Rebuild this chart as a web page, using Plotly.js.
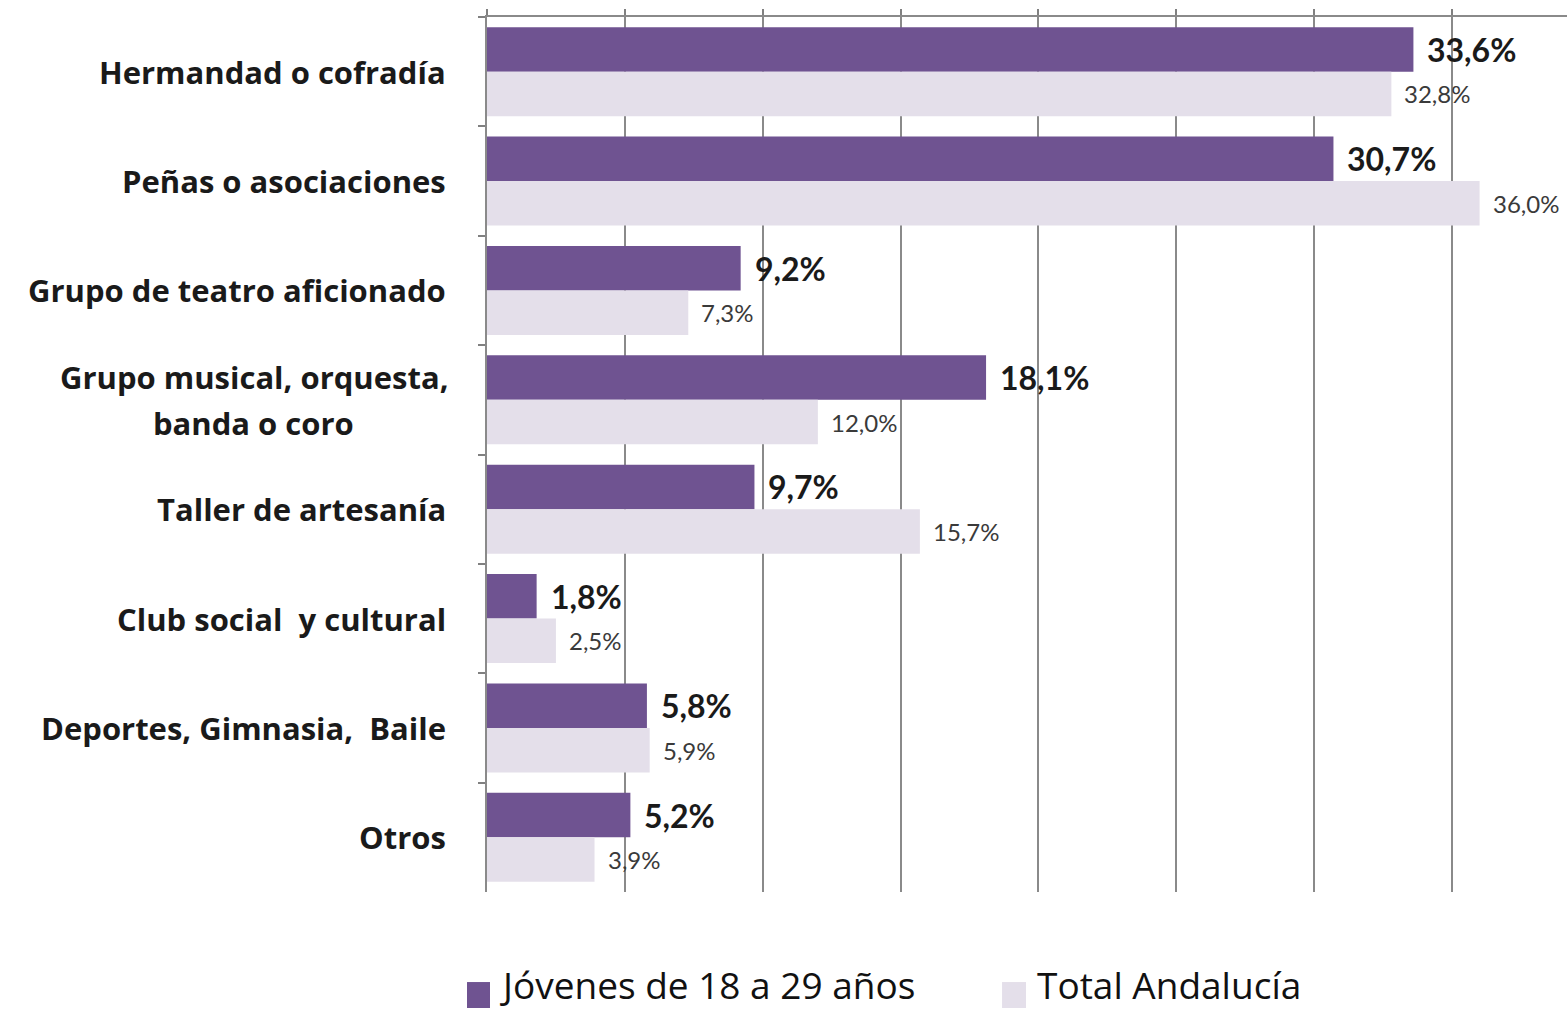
<!DOCTYPE html>
<html>
<head>
<meta charset="utf-8">
<script src="https://cdn.plot.ly/plotly-3.0.1.min.js"></script>
<style>html,body{margin:0;padding:0;background:#fff;}#chart{width:1567px;height:1011px;}</style>
</head>
<body>
<div id="chart"></div>
<script>
const categories = ["Hermandad o cofradía", "Peñas o asociaciones", "Grupo de teatro aficionado", "Grupo musical, orquesta,<br>banda o coro", "Taller de artesanía", "Club social  y cultural", "Deportes, Gimnasia,  Baile", "Otros"];
const jovenes = [33.6, 30.7, 9.2, 18.1, 9.7, 1.8, 5.8, 5.2];
const total = [32.8, 36.0, 7.3, 12.0, 15.7, 2.5, 5.9, 3.9];
const seriesNames = ["Jóvenes de 18 a 29 años", "Total Andalucía"];

const purple = "#6f5391";
const light = "#e4dfea";
const numFont = "Lato, 'Open Sans', sans-serif";
const catFont = "'Open Sans', sans-serif";
const legFont = "'Open Sans', sans-serif";
const catSize = 31;
const fmt = v => v.toFixed(1).replace('.', ',') + '%';

const traces = [
  {type: 'bar', orientation: 'h', name: seriesNames[0], y: categories, x: jovenes,
   marker: {color: purple}, hoverinfo: 'none'},
  {type: 'bar', orientation: 'h', name: seriesNames[1], y: categories, x: total,
   marker: {color: light}, hoverinfo: 'none'}
];

const ctx = document.createElement('canvas').getContext('2d');
ctx.font = 'bold ' + catSize + 'px "Open Sans"';

const annotations = [];
const half = (1 - 0.186) / 4;
const labelRight = -39;
const lineGap = 46;
categories.forEach((c, i) => {
  const lines = c.split('<br>');
  if (lines.length === 1) {
    annotations.push({xref: 'paper', x: 0, xshift: labelRight, xanchor: 'right', yref: 'y', y: i,
      text: '<b>' + c + '</b>', showarrow: false,
      font: {family: catFont, size: catSize, color: '#1a1a1a'}});
  } else {
    const maxW = Math.max(...lines.map(l => ctx.measureText(l).width));
    lines.forEach((l, k) => {
      annotations.push({xref: 'paper', x: 0, xshift: labelRight - maxW / 2, xanchor: 'center',
        yref: 'y', y: i, yshift: -(k - (lines.length - 1) / 2) * lineGap,
        text: '<b>' + l + '</b>', showarrow: false,
        font: {family: catFont, size: catSize, color: '#1a1a1a'}});
    });
  }
  annotations.push({xref: 'x', x: jovenes[i], xshift: 12, xanchor: 'left', yref: 'y', y: i - half,
    text: '<b>' + fmt(jovenes[i]) + '</b>', showarrow: false,
    font: {family: numFont, size: 32, color: '#1a1a1a'}});
  annotations.push({xref: 'x', x: total[i], xshift: 11, xanchor: 'left', yref: 'y', y: i + half,
    text: fmt(total[i]), showarrow: false,
    font: {family: numFont, size: 24, color: '#3a3a3a'}});
});
// legend (manual)
annotations.push({xref: 'paper', yref: 'paper', x: 0.0111, y: -0.1359, xanchor: 'left', yanchor: 'bottom',
  borderpad: 0, text: seriesNames[0], showarrow: false, font: {family: legFont, size: 37, color: '#111'}});
annotations.push({xref: 'paper', yref: 'paper', x: 0.5083, y: -0.1359, xanchor: 'left', yanchor: 'bottom',
  borderpad: 0, text: seriesNames[1], showarrow: false, font: {family: legFont, size: 37, color: '#111'}});

const shapes = [
  {type: 'rect', xref: 'paper', yref: 'paper', x0: -0.0185, x1: 0.0028, y0: -0.1326, y1: -0.1029,
   fillcolor: purple, line: {width: 0}},
  {type: 'rect', xref: 'paper', yref: 'paper', x0: 0.4769, x1: 0.4991, y0: -0.1326, y1: -0.1029,
   fillcolor: light, line: {width: 0}}
];

const layout = {
  width: 1567, height: 1011,
  margin: {l: 487, r: 0, t: 17, b: 119},
  paper_bgcolor: '#fff', plot_bgcolor: '#fff',
  barmode: 'group', bargap: 0.186, bargroupgap: 0,
  showlegend: false,
  xaxis: {range: [0, 39.17], side: 'top', dtick: 5, tick0: 0, showticklabels: false,
    ticks: 'outside', ticklen: 6, tickcolor: '#808080', tickwidth: 2,
    showgrid: true, gridcolor: '#8a8a8a', gridwidth: 2,
    showline: true, linecolor: '#8a8a8a', linewidth: 2, zeroline: false, fixedrange: true},
  yaxis: {autorange: 'reversed', showticklabels: false, ticks: 'outside', tickson: 'boundaries',
    ticklen: 7, tickcolor: '#808080', tickwidth: 2,
    showline: true, linecolor: '#8a8a8a', linewidth: 2, showgrid: false, fixedrange: true},
  annotations: annotations,
  shapes: shapes,
  font: {family: numFont}
};

Plotly.newPlot('chart', traces, layout, {displayModeBar: false, staticPlot: true});
</script>
</body>
</html>
